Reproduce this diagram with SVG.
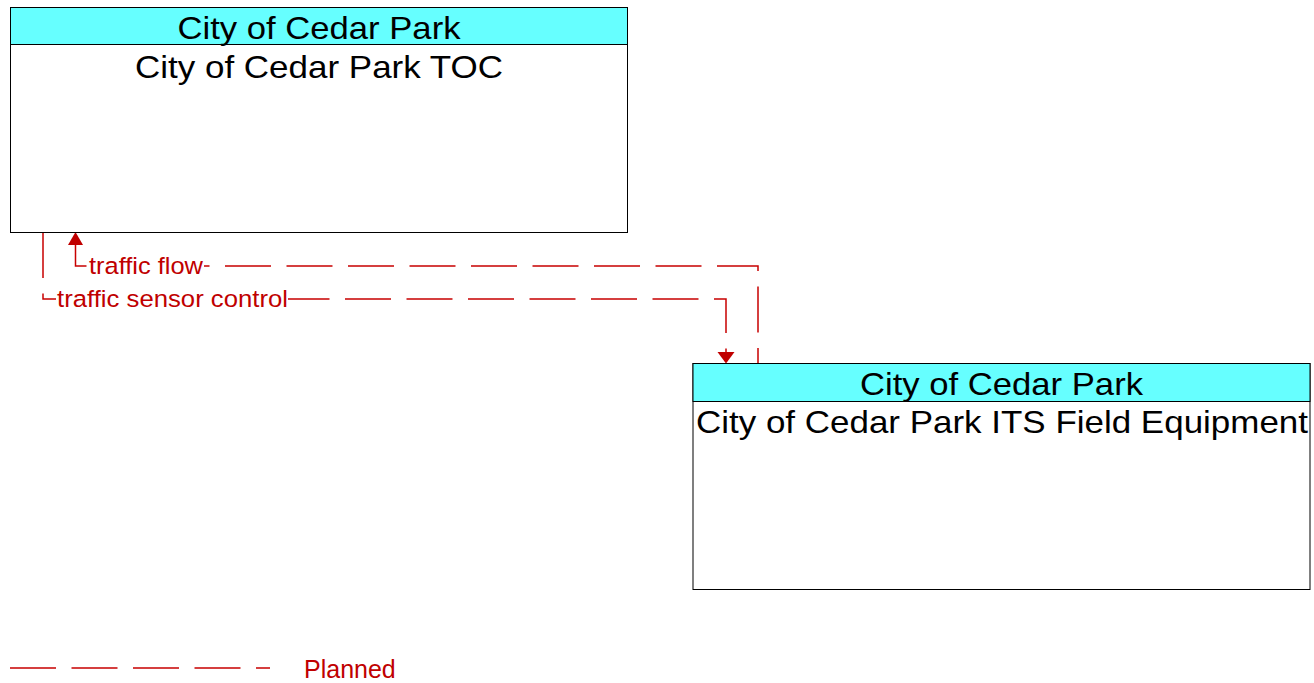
<svg xmlns="http://www.w3.org/2000/svg" width="1314" height="683" viewBox="0 0 1314 683">
<style>
.box{fill:#ffffff;stroke:#000000;stroke-width:1}
.hdr{fill:#66ffff;stroke:#000000;stroke-width:1}
.t{font-family:"Liberation Sans",Arial,sans-serif;font-size:31.5px;fill:#000000;text-anchor:middle}
.flow{fill:none;stroke:#c80000;stroke-width:1.5;stroke-dasharray:46 15.5}
.lbl{font-family:"Liberation Sans",Arial,sans-serif;font-size:23.7px;fill:#c00000}
.leg{font-family:"Liberation Sans",Arial,sans-serif;font-size:25px;fill:#c00000}
.arr{fill:#c00000}
</style>
<rect width="1314" height="683" fill="#ffffff"/>
<g id="connectors">
<path class="flow" d="M758,363 L758,266 L75.5,266 L75.5,244" style="stroke-dashoffset:31"/>
<path class="flow" d="M43,232 L43,299 L726,299 L726,352"/>
<polygon class="arr" points="75.5,232 68,245 83,245"/>
<polygon class="arr" points="726,363.5 717.5,352 734.5,352"/>
<rect x="88" y="254" width="116" height="23" fill="#ffffff"/>
<text class="lbl" x="89" y="274" textLength="114" lengthAdjust="spacingAndGlyphs">traffic flow</text>
<rect x="56" y="287" width="232" height="23" fill="#ffffff"/>
<text class="lbl" x="57" y="307" textLength="231" lengthAdjust="spacingAndGlyphs">traffic sensor control</text>
</g>
<g id="node-toc">
<rect class="box" x="10.5" y="7.5" width="617" height="225"/>
<rect class="hdr" x="10.5" y="7.5" width="617" height="37"/>
<text class="t" x="319" y="39" textLength="283" lengthAdjust="spacingAndGlyphs">City of Cedar Park</text>
<text class="t" x="319" y="78" textLength="368" lengthAdjust="spacingAndGlyphs">City of Cedar Park TOC</text>
</g>
<g id="node-field">
<rect class="box" x="693" y="363.5" width="617" height="226"/>
<rect class="hdr" x="693" y="363.5" width="617" height="38"/>
<text class="t" x="1001.5" y="395" textLength="283" lengthAdjust="spacingAndGlyphs">City of Cedar Park</text>
<text class="t" x="1002" y="433" textLength="612" lengthAdjust="spacingAndGlyphs">City of Cedar Park ITS Field Equipment</text>
</g>
<g id="legend">
<line class="flow" x1="10" y1="668" x2="270" y2="668"/>
<text class="leg" x="304" y="678">Planned</text>
</g>
</svg>
